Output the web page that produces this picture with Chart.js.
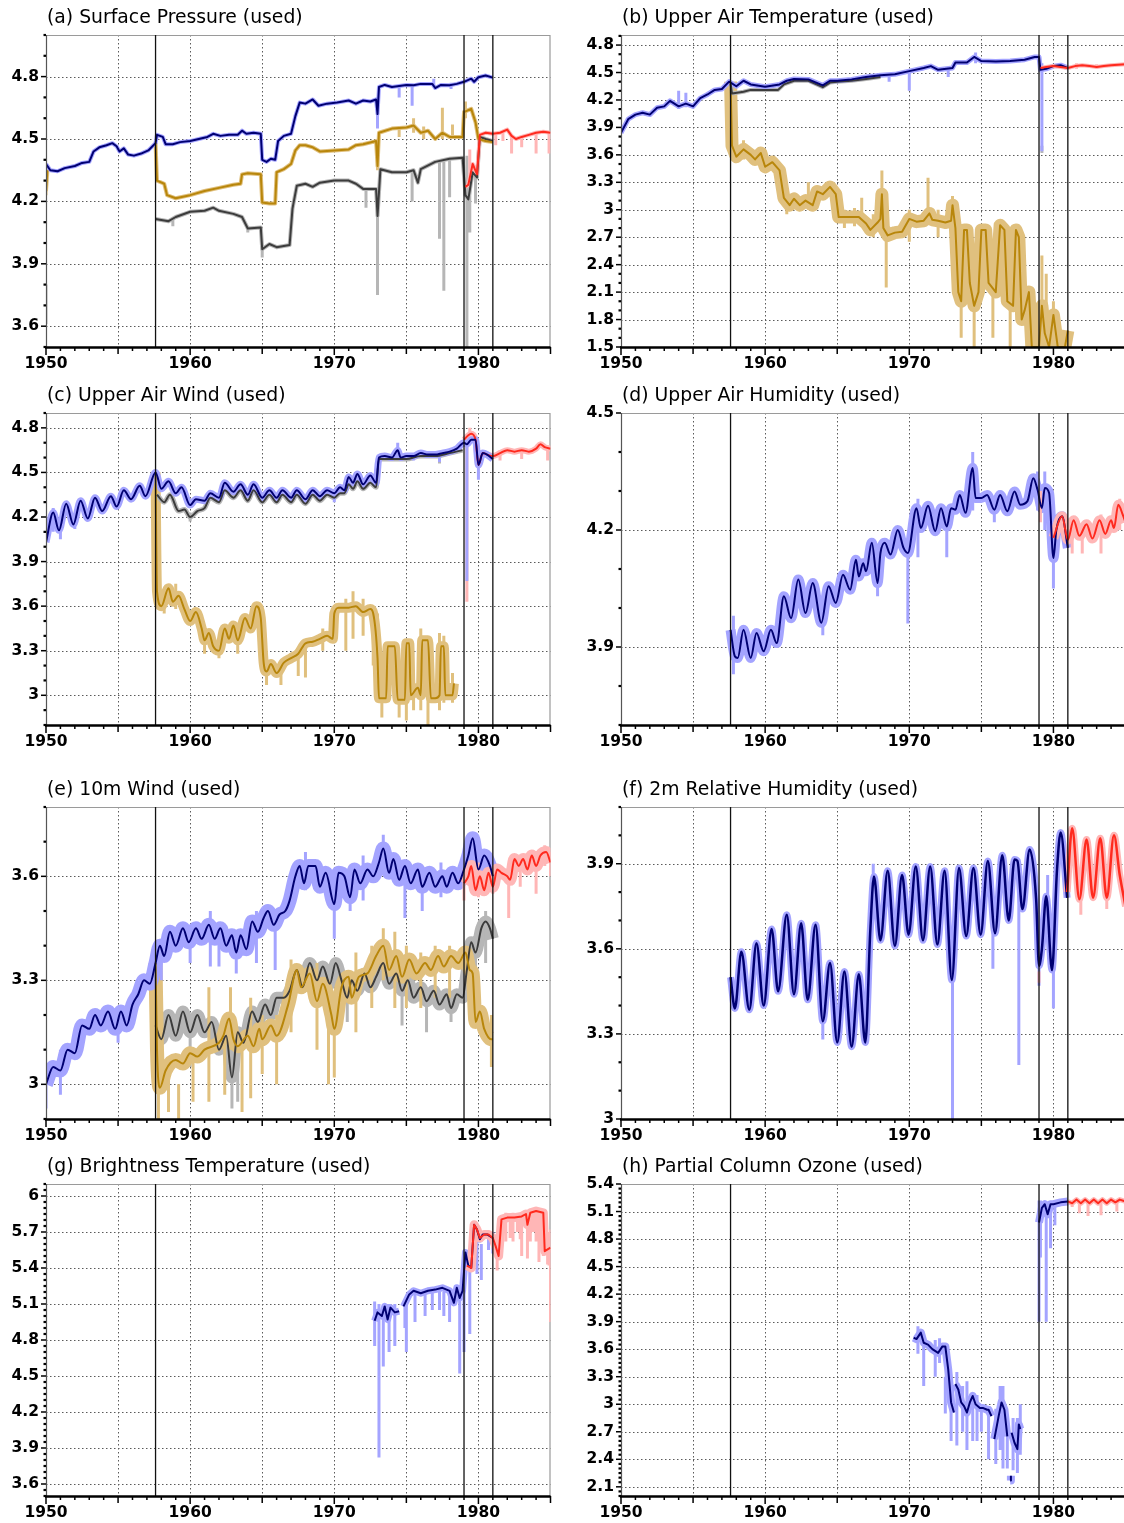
<!DOCTYPE html>
<html><head><meta charset="utf-8">
<script src="https://cdn.jsdelivr.net/npm/chart.js@4.4.0/dist/chart.umd.min.js"></script>
<style>
html,body{margin:0;padding:0;width:1124px;height:1523px;overflow:hidden;background:#fff}
body{position:relative}
canvas{position:absolute}
</style></head><body>
<canvas id="pa" width="560" height="377" style="left:0px;top:0px"></canvas>
<canvas id="pb" width="560" height="377" style="left:575px;top:0px"></canvas>
<canvas id="pc" width="560" height="377" style="left:0px;top:378px"></canvas>
<canvas id="pd" width="560" height="377" style="left:575px;top:378px"></canvas>
<canvas id="pe" width="560" height="377" style="left:0px;top:772px"></canvas>
<canvas id="pf" width="560" height="377" style="left:575px;top:772px"></canvas>
<canvas id="pg" width="560" height="377" style="left:0px;top:1149px"></canvas>
<canvas id="ph" width="560" height="377" style="left:575px;top:1149px"></canvas>
<script>
// ---------------- DATA ----------------
const xTickLabels = [1950, 1960, 1970, 1980];
const eventYears = [1957.6, 1979.0, 1981.0];
const gridYears = [1955, 1960, 1965, 1970, 1975, 1980];

const titles = ["(a) Surface Pressure (used)", "(b) Upper Air Temperature (used)",
  "(c) Upper Air Wind (used)", "(d) Upper Air Humidity (used)",
  "(e) 10m Wind (used)", "(f) 2m Relative Humidity (used)",
  "(g) Brightness Temperature (used)", "(h) Partial Column Ozone (used)"];

const aYTicks = [3.6, 3.9, 4.2, 4.5, 4.8];
const bYTicks = [1.5, 1.8, 2.1, 2.4, 2.7, 3.0, 3.3, 3.6, 3.9, 4.2, 4.5, 4.8];
const cYTicks = [3.0, 3.3, 3.6, 3.9, 4.2, 4.5, 4.8];
const dYTicks = [3.9, 4.2, 4.5];
const eYTicks = [3.0, 3.3, 3.6];
const fYTicks = [3.0, 3.3, 3.6, 3.9];
const gYTicks = [3.6, 3.9, 4.2, 4.5, 4.8, 5.1, 5.4, 5.7, 6.0];
const hYTicks = [2.1, 2.4, 2.7, 3.0, 3.3, 3.6, 3.9, 4.2, 4.5, 4.8, 5.1, 5.4];

// (a) Surface Pressure
const aBlue = [[1950.0,4.38],[1950.3,4.35],[1950.8,4.345],[1951.3,4.36],[1952.0,4.37],[1952.5,4.385],[1953.0,4.39],[1953.3,4.44],[1953.7,4.46],[1954.2,4.47],[1954.6,4.48],[1954.9,4.465],[1955.1,4.44],[1955.4,4.455],[1955.7,4.425],[1956.1,4.42],[1956.6,4.43],[1957.1,4.445],[1957.6,4.48],[1957.7,4.52],[1958.1,4.51],[1958.3,4.475],[1958.8,4.475],[1959.3,4.485],[1960.0,4.49],[1960.6,4.5],[1961.2,4.51],[1961.6,4.525],[1962.1,4.515],[1962.7,4.52],[1963.3,4.52],[1963.6,4.54],[1963.9,4.525],[1964.4,4.53],[1964.9,4.525],[1965.0,4.40],[1965.3,4.39],[1965.6,4.405],[1965.9,4.40],[1966.1,4.49],[1966.5,4.515],[1967.0,4.525],[1967.3,4.61],[1967.6,4.675],[1968.0,4.67],[1968.5,4.69],[1968.9,4.66],[1969.5,4.67],[1970.2,4.675],[1971.0,4.685],[1971.5,4.67],[1972.0,4.685],[1972.5,4.68],[1972.9,4.69],[1973.0,4.62],[1973.1,4.75],[1973.5,4.76],[1974.0,4.75],[1974.5,4.755],[1975.0,4.76],[1975.5,4.758],[1976.0,4.765],[1976.8,4.765],[1977.0,4.745],[1977.4,4.76],[1978.0,4.758],[1978.5,4.765],[1979.0,4.775],[1979.5,4.79],[1979.7,4.775],[1980.0,4.797],[1980.5,4.805],[1981.0,4.795]];
const aBlueSpikes = [[1973.0,4.55,4.7],[1974.5,4.70,4.76],[1975.4,4.66,4.76],[1976.9,4.76,4.79],[1978.1,4.74,4.77]];
const aGold = [[1950.0,4.25],[1950.1,4.35],[1950.15,null],[1957.6,4.48],[1957.7,4.30],[1958.2,4.285],[1958.4,4.23],[1959.0,4.215],[1960.0,4.23],[1961.0,4.25],[1962.0,4.265],[1963.0,4.28],[1963.5,4.285],[1963.6,4.33],[1964.0,4.335],[1964.9,4.33],[1965.0,4.195],[1965.5,4.19],[1965.9,4.19],[1966.0,4.34],[1966.5,4.355],[1967.0,4.38],[1967.3,4.445],[1967.6,4.47],[1968.0,4.47],[1968.5,4.46],[1969.0,4.44],[1970.0,4.445],[1971.0,4.45],[1971.5,4.47],[1972.0,4.475],[1972.9,4.49],[1973.0,4.37],[1973.1,4.53],[1974.0,4.55],[1975.0,4.555],[1975.5,4.565],[1976.0,4.53],[1976.5,4.54],[1977.0,4.50],[1977.5,4.53],[1978.0,4.51],[1978.9,4.51],[1979.0,4.63],[1979.5,4.645],[1979.8,4.58],[1980.0,4.50],[1980.5,4.49],[1981.0,4.485]];
const aGoldSpikes = [[1950.0,4.23,4.37],[1973.0,4.35,4.49],[1975.5,4.53,4.60],[1977.5,4.50,4.65],[1978.2,4.50,4.57],[1979.1,4.6,4.68],[1976.2,4.50,4.56],[1974.5,4.51,4.56]];
const aGrey = [[1957.6,4.115],[1958.5,4.105],[1959.0,4.125],[1960.0,4.15],[1961.0,4.155],[1961.6,4.17],[1962.0,4.155],[1963.0,4.14],[1963.6,4.125],[1964.0,4.07],[1964.9,4.075],[1965.0,3.97],[1965.5,3.995],[1966.0,3.98],[1966.9,3.99],[1967.1,4.165],[1967.4,4.275],[1968.0,4.285],[1968.5,4.27],[1969.0,4.29],[1970.0,4.30],[1971.0,4.30],[1971.5,4.285],[1972.0,4.26],[1972.9,4.26],[1973.0,4.13],[1973.2,4.355],[1974.0,4.34],[1975.0,4.34],[1975.5,4.35],[1975.8,4.29],[1976.0,4.355],[1977.0,4.39],[1978.0,4.405],[1978.9,4.41],[1979.1,4.23],[1979.3,4.21],[1979.6,4.34],[1979.9,4.315],[1980.1,4.51],[1980.5,4.50],[1981.0,4.49]];
const aGreySpikes = [[1950.0,3.61,3.80],[1973.0,3.75,4.2],[1972.2,4.17,4.26],[1975.4,4.2,4.34],[1977.3,4.02,4.39],[1977.6,3.77,4.39],[1978.0,4.22,4.4],[1979.2,3.5,4.42],[1979.4,4.05,4.3],[1979.8,4.19,4.32],[1958.8,4.08,4.12],[1965.0,3.93,3.99],[1964.0,4.05,4.08]];
const aRed = [[1979.1,4.27],[1979.3,4.28],[1979.6,4.38],[1979.9,4.33],[1980.1,4.52],[1980.5,4.53],[1981.0,4.525],[1981.5,4.53],[1982.0,4.545],[1982.3,4.515],[1982.6,4.50],[1983.0,4.51],[1983.5,4.52],[1984.0,4.53],[1984.5,4.535],[1985.0,4.53]];
const aRedSpikes = [[1979.4,4.33,4.45],[1981.2,4.47,4.53],[1982.3,4.43,4.52],[1983.0,4.46,4.51],[1984.0,4.43,4.53],[1984.9,4.43,4.53],[1981.7,4.49,4.53]];

// (b) Upper Air Temperature
const bBlue = [[1950.0,3.84],[1950.5,3.99],[1951.0,4.04],[1951.5,4.06],[1952.0,4.04],[1952.5,4.115],[1953.0,4.13],[1953.4,4.19],[1954.0,4.13],[1954.5,4.16],[1955.0,4.13],[1955.5,4.22],[1956.0,4.26],[1956.5,4.31],[1957.0,4.32],[1957.5,4.40],[1958.0,4.35],[1958.5,4.41],[1959.0,4.37],[1960.0,4.345],[1961.0,4.37],[1961.5,4.41],[1962.0,4.43],[1963.0,4.425],[1964.0,4.36],[1964.5,4.41],[1965.0,4.41],[1966.0,4.425],[1967.0,4.45],[1968.0,4.47],[1969.0,4.48],[1970.0,4.515],[1971.0,4.55],[1971.5,4.57],[1972.0,4.53],[1973.0,4.55],[1973.2,4.61],[1974.0,4.61],[1974.5,4.67],[1975.0,4.625],[1976.0,4.62],[1977.0,4.625],[1978.0,4.64],[1978.7,4.67],[1979.0,4.67],[1979.1,4.53],[1979.5,4.54],[1980.0,4.57],[1980.5,4.58],[1981.0,4.55]];
const bBlueSpikes = [[1954.0,4.1,4.3],[1954.5,4.12,4.28],[1970.0,4.3,4.5],[1972.7,4.45,4.55],[1979.2,3.64,4.6],[1974.6,4.6,4.72],[1968.6,4.4,4.48]];
const bGrey = [[1957.6,4.38],[1957.7,4.27],[1958.5,4.29],[1959.0,4.31],[1960.0,4.31],[1960.9,4.31],[1961.3,4.37],[1962.0,4.41],[1963.0,4.41],[1964.0,4.34],[1964.5,4.39],[1965.0,4.40],[1966.0,4.41],[1967.0,4.43],[1968.0,4.45]];
const bGreySpikes = [[1979.2,3.62,3.7]];
const bGold = [[1957.6,4.40],[1957.7,3.70],[1958.0,3.58],[1958.5,3.66],[1959.0,3.60],[1959.3,3.55],[1959.7,3.62],[1960.0,3.47],[1960.5,3.52],[1961.0,3.43],[1961.3,3.13],[1961.7,3.05],[1962.0,3.12],[1962.4,3.05],[1962.8,3.10],[1963.3,3.05],[1963.6,3.20],[1964.0,3.17],[1964.5,3.25],[1964.9,3.17],[1965.1,2.92],[1966.0,2.92],[1966.5,2.92],[1967.0,2.85],[1967.3,2.78],[1967.8,2.86],[1968.0,2.90],[1968.1,3.17],[1968.2,2.80],[1968.5,2.72],[1969.0,2.75],[1969.5,2.76],[1970.0,2.90],[1970.5,2.87],[1971.0,2.88],[1971.4,2.96],[1971.6,2.89],[1972.0,2.88],[1972.5,2.86],[1972.9,2.88],[1973.0,3.05],[1973.2,2.80],[1973.4,2.10],[1973.6,2.00],[1973.8,2.78],[1974.0,2.78],[1974.2,2.20],[1974.5,1.95],[1974.8,2.10],[1975.0,2.78],[1975.3,2.78],[1975.5,2.20],[1976.0,2.10],[1976.3,2.83],[1976.6,2.78],[1976.8,2.00],[1977.2,1.95],[1977.4,2.78],[1977.6,2.70],[1977.8,1.80],[1978.0,1.90],[1978.3,2.10],[1978.5,1.50],[1979.0,1.50],[1979.2,1.95],[1979.4,1.65],[1979.7,1.50],[1980.0,1.85],[1980.3,1.50],[1980.8,1.50],[1981.0,1.68]];
const bGoldSpikes = [[1966.7,2.9,3.13],[1968.1,2.9,3.43],[1968.4,2.15,2.8],[1971.3,2.9,3.35],[1973.0,2.8,3.15],[1973.6,1.6,2.1],[1974.5,1.5,2.0],[1975.8,1.6,2.1],[1977.0,1.5,2.0],[1978.5,1.5,2.0],[1979.2,1.5,2.5],[1979.5,1.5,2.3],[1980.0,1.5,2.0],[1960.0,3.4,3.65],[1961.5,2.95,3.2],[1963.0,3.0,3.3],[1965.5,2.8,3.0],[1967.5,2.7,2.95],[1970.0,2.65,3.0],[1972.0,2.7,3.0],[1958.5,3.55,3.76],[1966.2,2.82,3.02]];
const bRed = [[1979.1,4.55],[1979.5,4.56],[1980.0,4.57],[1981.0,4.55],[1981.5,4.57],[1982.0,4.58],[1982.5,4.57],[1983.0,4.56],[1983.5,4.57],[1984.0,4.58],[1984.5,4.585],[1985.0,4.59]];
const bRedSpikes = [[1981.6,4.54,4.6],[1983.0,4.54,4.59]];

// (c) Upper Air Wind
const cBlue = [[1950.0,4.03],[1950.5,4.23],[1950.9,4.11],[1951.4,4.29],[1951.9,4.15],[1952.4,4.31],[1952.9,4.19],[1953.4,4.33],[1953.9,4.24],[1954.5,4.34],[1954.9,4.27],[1955.4,4.38],[1955.9,4.32],[1956.5,4.41],[1956.9,4.34],[1957.6,4.50],[1958.0,4.39],[1958.5,4.44],[1959.0,4.36],[1959.4,4.40],[1960.0,4.28],[1960.4,4.32],[1961.0,4.31],[1961.4,4.36],[1962.0,4.33],[1962.4,4.43],[1963.0,4.37],[1963.5,4.42],[1964.0,4.35],[1964.4,4.42],[1965.0,4.33],[1965.5,4.38],[1966.0,4.33],[1966.4,4.38],[1967.0,4.33],[1967.4,4.38],[1968.0,4.32],[1968.5,4.38],[1969.0,4.34],[1969.5,4.38],[1970.0,4.36],[1970.4,4.40],[1970.7,4.38],[1971.0,4.47],[1971.3,4.43],[1971.6,4.49],[1972.0,4.42],[1972.5,4.48],[1972.9,4.43],[1973.1,4.60],[1973.5,4.61],[1974.0,4.60],[1974.4,4.65],[1974.6,4.60],[1975.0,4.61],[1975.5,4.61],[1976.0,4.63],[1976.5,4.62],[1977.0,4.62],[1977.5,4.63],[1978.0,4.64],[1978.5,4.66],[1979.0,4.70],[1979.2,4.69],[1979.5,4.72],[1979.8,4.72],[1980.0,4.55],[1980.3,4.63],[1980.6,4.62],[1981.0,4.59]];
const cBlueSpikes = [[1979.2,3.77,4.7],[1980.0,4.45,4.6],[1950.5,4.1,4.26],[1951.0,4.05,4.15],[1952.0,4.12,4.2],[1974.4,4.6,4.7],[1970.0,4.3,4.36],[1975.5,4.58,4.63],[1977.3,4.57,4.62]];
const cGrey = [[1957.7,4.35],[1958.2,4.30],[1958.6,4.35],[1959.2,4.24],[1959.6,4.25],[1960.0,4.20],[1960.5,4.24],[1961.0,4.26],[1961.4,4.33],[1962.0,4.30],[1962.4,4.38],[1963.0,4.33],[1963.5,4.38],[1964.0,4.31],[1964.4,4.38],[1965.0,4.30],[1965.5,4.35],[1966.0,4.30],[1966.4,4.35],[1967.0,4.30],[1967.4,4.35],[1968.0,4.29],[1968.5,4.35],[1969.0,4.31],[1969.5,4.35],[1970.0,4.33],[1970.4,4.36],[1970.7,4.36],[1971.0,4.42],[1971.3,4.39],[1971.6,4.44],[1972.0,4.39],[1972.5,4.43],[1972.9,4.40],[1973.1,4.59],[1974.0,4.59],[1975.0,4.59],[1976.0,4.61],[1977.0,4.61],[1978.0,4.63],[1978.9,4.65]];
const cGreySpikes = [[1960.0,4.17,4.23],[1977.3,4.56,4.62]];
const cGold = [[1957.6,4.50],[1957.7,3.70],[1958.0,3.60],[1958.5,3.72],[1958.8,3.63],[1959.2,3.67],[1959.6,3.58],[1960.0,3.50],[1960.4,3.56],[1960.8,3.45],[1961.0,3.37],[1961.3,3.42],[1961.6,3.33],[1962.0,3.30],[1962.4,3.45],[1962.7,3.38],[1963.0,3.47],[1963.3,3.37],[1963.8,3.52],[1964.2,3.45],[1964.6,3.60],[1964.9,3.52],[1965.1,3.22],[1965.3,3.16],[1965.6,3.21],[1966.0,3.15],[1966.5,3.22],[1967.0,3.25],[1967.5,3.28],[1968.0,3.35],[1968.5,3.36],[1969.0,3.38],[1969.5,3.40],[1969.9,3.38],[1970.0,3.55],[1970.3,3.59],[1971.0,3.59],[1971.5,3.60],[1972.0,3.56],[1972.5,3.58],[1972.7,3.55],[1973.0,3.25],[1973.1,2.98],[1973.6,2.98],[1973.7,3.33],[1974.2,3.33],[1974.4,2.97],[1974.9,2.97],[1975.0,3.35],[1975.2,3.35],[1975.3,3.00],[1975.8,3.05],[1976.0,3.00],[1976.1,3.37],[1976.5,3.37],[1976.7,2.98],[1977.0,2.98],[1977.3,3.00],[1977.4,3.33],[1977.6,3.33],[1977.7,3.00],[1978.2,3.00],[1978.3,3.08]];
const cGoldSpikes = [[1961.0,3.28,3.45],[1962.0,3.25,3.38],[1963.3,3.28,3.4],[1965.3,3.07,3.2],[1966.3,3.07,3.2],[1967.5,3.13,3.3],[1968.0,3.12,3.35],[1969.2,3.3,3.45],[1970.8,3.3,3.65],[1971.3,3.38,3.7],[1972.0,3.4,3.65],[1972.7,3.2,3.6],[1973.0,3.15,3.55],[1973.3,2.85,3.05],[1974.5,2.85,3.0],[1975.0,2.83,3.33],[1975.5,2.9,3.1],[1976.0,2.9,3.45],[1976.5,2.8,3.0],[1977.3,2.9,3.42],[1977.6,2.95,3.4],[1978.2,2.95,3.15],[1958.2,3.55,3.7],[1959.0,3.58,3.75]];
const cRed = [[1979.0,4.72],[1979.3,4.75],[1979.5,4.76],[1979.8,4.72],[1980.0,4.55],[1980.3,4.63],[1980.6,4.62],[1981.0,4.61],[1981.5,4.63],[1982.0,4.65],[1982.5,4.64],[1983.0,4.65],[1983.5,4.64],[1984.0,4.66],[1984.3,4.69],[1984.6,4.67],[1985.0,4.66]];
const cRedSpikes = [[1979.2,3.63,4.7],[1979.4,4.72,4.8],[1981.5,4.58,4.65],[1983.0,4.59,4.66],[1984.8,4.58,4.66]];

// (d) Upper Air Humidity
const dBlue = [[1957.6,3.944],[1957.9,3.876],[1958.1,3.872],[1958.5,3.944],[1959.0,3.872],[1959.4,3.936],[1959.9,3.889],[1960.4,3.944],[1960.8,3.91],[1961.3,4.03],[1961.8,3.974],[1962.3,4.073],[1962.8,3.987],[1963.3,4.064],[1963.9,3.962],[1964.4,4.056],[1964.9,4.013],[1965.4,4.085],[1965.9,4.047],[1966.3,4.124],[1966.5,4.081],[1966.8,4.115],[1967.0,4.094],[1967.4,4.167],[1967.8,4.064],[1968.0,4.141],[1968.3,4.167],[1968.7,4.137],[1969.2,4.20],[1969.6,4.154],[1969.9,4.141],[1970.5,4.256],[1970.8,4.205],[1971.3,4.262],[1971.8,4.197],[1972.2,4.256],[1972.6,4.209],[1972.9,4.256],[1973.2,4.252],[1973.5,4.29],[1973.9,4.244],[1974.4,4.359],[1974.6,4.282],[1975.0,4.282],[1975.4,4.29],[1975.9,4.252],[1976.3,4.29],[1976.8,4.248],[1977.3,4.299],[1977.7,4.265],[1978.2,4.274],[1978.6,4.333],[1978.9,4.303],[1979.2,4.256],[1979.4,4.308],[1979.7,4.295],[1980.0,4.128],[1980.2,4.20],[1980.6,4.235],[1981.0,4.154]];
const dBlueSpikes = [[1969.9,3.96,4.15],[1967.8,4.03,4.1],[1980.0,4.05,4.15],[1974.4,4.25,4.4],[1978.9,4.25,4.35],[1979.4,4.2,4.35],[1957.8,3.83,3.98],[1964.0,3.93,4.0],[1970.6,4.13,4.28],[1972.6,4.13,4.2],[1975.9,4.22,4.28]];
const dRed = [[1980.0,4.18],[1980.6,4.235],[1981.0,4.175],[1981.4,4.225],[1981.8,4.185],[1982.3,4.215],[1982.7,4.178],[1983.2,4.225],[1983.6,4.19],[1984.0,4.225],[1984.2,4.205],[1984.5,4.265],[1984.8,4.24],[1985.0,4.22]];
const dRedSpikes = [[1981.3,4.14,4.22],[1982.0,4.14,4.2],[1983.3,4.14,4.24],[1984.6,4.2,4.28],[1979.1,4.22,4.3]];

// (e) 10m Wind
const eBlue = [[1950.0,3.00],[1950.5,3.05],[1951.0,3.04],[1951.5,3.10],[1952.0,3.09],[1952.5,3.17],[1953.0,3.16],[1953.4,3.20],[1953.8,3.17],[1954.3,3.21],[1954.8,3.16],[1955.2,3.21],[1955.6,3.17],[1956.0,3.23],[1956.4,3.26],[1956.8,3.30],[1957.2,3.29],[1957.6,3.35],[1957.9,3.40],[1958.2,3.37],[1958.6,3.44],[1959.0,3.40],[1959.5,3.45],[1959.9,3.41],[1960.4,3.45],[1960.8,3.42],[1961.3,3.46],[1961.7,3.42],[1962.1,3.45],[1962.5,3.40],[1962.9,3.43],[1963.2,3.38],[1963.5,3.43],[1963.9,3.39],[1964.3,3.47],[1964.7,3.44],[1965.1,3.48],[1965.4,3.50],[1965.8,3.46],[1966.2,3.49],[1966.6,3.50],[1966.9,3.53],[1967.3,3.60],[1967.6,3.63],[1967.9,3.58],[1968.2,3.63],[1968.7,3.63],[1969.0,3.57],[1969.4,3.61],[1970.0,3.52],[1970.3,3.61],[1970.7,3.60],[1971.1,3.54],[1971.4,3.62],[1971.8,3.58],[1972.3,3.62],[1972.7,3.60],[1973.1,3.64],[1973.4,3.68],[1973.8,3.61],[1974.1,3.65],[1974.5,3.59],[1974.9,3.63],[1975.3,3.58],[1975.8,3.62],[1976.1,3.57],[1976.6,3.61],[1977.0,3.57],[1977.5,3.60],[1977.8,3.57],[1978.2,3.61],[1978.6,3.58],[1979.0,3.62],[1979.3,3.66],[1979.6,3.71],[1980.0,3.62],[1980.4,3.66],[1980.8,3.63],[1981.0,3.60]];
const eBlueSpikes = [[1970.0,3.42,3.6],[1971.1,3.5,3.6],[1965.9,3.33,3.45],[1963.2,3.32,3.4],[1962.0,3.34,3.45],[1960.0,3.35,3.45],[1974.9,3.48,3.6],[1976.1,3.5,3.6],[1973.4,3.66,3.72],[1958.0,3.3,3.42],[1950.0,2.93,3.02],[1951.0,2.97,3.1],[1955.0,3.12,3.2],[1979.6,3.66,3.72],[1961.4,3.34,3.5],[1964.6,3.35,3.5],[1968.0,3.56,3.67],[1972.0,3.53,3.66],[1977.4,3.54,3.64]];
const eGrey = [[1957.6,3.17],[1958.0,3.13],[1958.5,3.20],[1959.0,3.14],[1959.5,3.21],[1960.0,3.15],[1960.5,3.20],[1961.0,3.15],[1961.5,3.18],[1962.0,3.10],[1962.5,3.14],[1962.9,3.02],[1963.3,3.15],[1963.7,3.12],[1964.3,3.21],[1964.7,3.18],[1965.2,3.23],[1965.6,3.20],[1966.0,3.25],[1966.5,3.25],[1966.9,3.27],[1967.4,3.33],[1967.8,3.28],[1968.3,3.35],[1968.8,3.30],[1969.2,3.34],[1969.7,3.29],[1970.1,3.35],[1970.5,3.30],[1970.9,3.25],[1971.2,3.30],[1971.6,3.27],[1972.1,3.32],[1972.5,3.28],[1972.9,3.31],[1973.4,3.35],[1973.8,3.29],[1974.3,3.32],[1974.7,3.27],[1975.1,3.30],[1975.5,3.25],[1976.0,3.28],[1976.4,3.24],[1976.9,3.27],[1977.3,3.23],[1977.8,3.26],[1978.1,3.22],[1978.5,3.26],[1978.9,3.25],[1979.2,3.33],[1979.5,3.41],[1979.8,3.38],[1980.2,3.45],[1980.5,3.47],[1980.8,3.45],[1981.0,3.42]];
const eGreySpikes = [[1962.9,2.93,3.05],[1963.3,2.95,3.12],[1970.9,3.18,3.27],[1974.7,3.17,3.27],[1976.4,3.15,3.24],[1978.1,3.18,3.23],[1979.8,3.2,3.4],[1980.5,3.35,3.5],[1960.0,3.05,3.15]];
const eGold = [[1957.6,3.35],[1957.7,3.10],[1957.9,2.99],[1958.3,3.04],[1959.0,3.07],[1959.5,3.06],[1960.0,3.09],[1960.5,3.08],[1961.0,3.10],[1962.0,3.12],[1962.3,3.14],[1962.7,3.19],[1963.0,3.13],[1963.3,3.11],[1964.0,3.14],[1964.4,3.11],[1964.8,3.16],[1965.0,3.13],[1965.6,3.17],[1966.0,3.14],[1966.8,3.23],[1967.4,3.33],[1967.7,3.28],[1968.3,3.32],[1968.8,3.24],[1969.2,3.29],[1969.8,3.20],[1970.0,3.16],[1970.5,3.28],[1971.0,3.31],[1971.2,3.25],[1971.7,3.31],[1972.3,3.32],[1972.9,3.37],[1973.4,3.40],[1973.8,3.33],[1974.3,3.37],[1974.7,3.31],[1975.2,3.36],[1975.7,3.32],[1976.3,3.35],[1976.7,3.33],[1977.2,3.37],[1977.6,3.34],[1978.1,3.37],[1978.6,3.35],[1979.1,3.38],[1979.4,3.33],[1979.6,3.32],[1979.8,3.18],[1980.1,3.21],[1980.4,3.16],[1980.9,3.13],[1981.0,3.13]];
const eGoldSpikes = [[1957.8,2.9,3.1],[1958.5,2.92,3.05],[1959.2,2.9,3.0],[1960.2,2.95,3.1],[1961.3,2.95,3.28],[1962.4,2.97,3.2],[1962.8,3.1,3.28],[1963.6,2.92,3.1],[1964.2,2.96,3.25],[1965.0,3.03,3.2],[1966.0,3.0,3.2],[1967.0,3.15,3.36],[1968.8,3.1,3.35],[1969.6,3.0,3.3],[1970.0,3.02,3.2],[1971.5,3.15,3.38],[1972.6,3.22,3.4],[1973.4,3.3,3.45],[1974.2,3.22,3.44],[1975.0,3.22,3.4],[1976.0,3.22,3.38],[1977.0,3.25,3.4],[1978.0,3.25,3.4],[1980.9,3.05,3.2]];
const eRed = [[1979.0,3.58],[1979.3,3.60],[1979.5,3.63],[1979.8,3.56],[1980.1,3.60],[1980.4,3.56],[1980.7,3.61],[1981.0,3.57],[1981.3,3.62],[1981.6,3.61],[1982.0,3.60],[1982.2,3.59],[1982.5,3.65],[1982.8,3.63],[1983.1,3.65],[1983.4,3.62],[1983.7,3.66],[1984.0,3.63],[1984.3,3.66],[1984.7,3.67],[1985.0,3.64]];
const eRedSpikes = [[1979.0,3.53,3.62],[1980.0,3.54,3.64],[1981.0,3.55,3.62],[1982.1,3.48,3.62],[1982.9,3.57,3.66],[1984.0,3.55,3.66],[1985.0,3.6,3.67],[1984.6,3.63,3.69]];

// (f) 2m Relative Humidity
const fBlue = [[1957.6,3.50],[1957.9,3.39],[1958.35,3.59],[1958.9,3.385],[1959.4,3.62],[1959.9,3.40],[1960.45,3.67],[1960.9,3.45],[1961.5,3.72],[1962.0,3.44],[1962.5,3.69],[1962.95,3.42],[1963.5,3.685],[1964.0,3.345],[1964.5,3.55],[1965.0,3.27],[1965.5,3.52],[1966.0,3.255],[1966.5,3.51],[1966.95,3.27],[1967.3,3.67],[1967.55,3.855],[1968.0,3.63],[1968.5,3.875],[1969.0,3.61],[1969.5,3.86],[1969.95,3.65],[1970.45,3.89],[1970.95,3.63],[1971.45,3.89],[1971.95,3.615],[1972.45,3.875],[1972.95,3.49],[1973.45,3.885],[1973.95,3.645],[1974.45,3.885],[1974.95,3.65],[1975.45,3.91],[1975.95,3.655],[1976.45,3.93],[1976.9,3.70],[1977.3,3.915],[1977.5,3.91],[1977.85,3.74],[1978.35,3.95],[1978.8,3.775],[1979.0,3.54],[1979.2,3.60],[1979.5,3.785],[1979.9,3.525],[1980.25,3.88],[1980.5,4.01],[1980.95,3.78]];
const fBlueSpikes = [[1973.0,3.0,3.5],[1977.6,3.19,3.9],[1975.8,3.53,3.66],[1979.0,3.47,3.6],[1980.0,3.39,3.55],[1964.0,3.28,3.36],[1979.6,3.7,3.86],[1967.5,3.8,3.9]];
const fRed = [[1980.95,3.80],[1981.3,4.025],[1981.8,3.775],[1982.3,3.985],[1982.75,3.78],[1983.25,3.99],[1983.7,3.78],[1984.2,4.0],[1984.6,3.86],[1985.0,3.75]];
const fRedSpikes = [[1979.0,3.48,3.52],[1981.9,3.72,3.8],[1983.7,3.74,3.8],[1985.0,3.7,3.78]];

// (g) Brightness Temperature
const gBlue = [[1972.8,4.96],[1973.0,5.03],[1973.3,5.0],[1973.5,5.08],[1973.7,4.97],[1973.9,5.07],[1974.2,5.03],[1974.5,5.04],[1974.55,null],[1974.6,4.96],[1974.65,null],[1974.8,5.08],[1975.2,5.18],[1975.5,5.21],[1976.0,5.19],[1976.5,5.21],[1977.0,5.22],[1977.5,5.235],[1978.0,5.21],[1978.3,5.11],[1978.5,5.235],[1978.7,5.15],[1978.9,5.21],[1979.1,5.53],[1979.3,5.42],[1979.5,5.40],[1979.7,5.76],[1979.9,5.72],[1980.1,5.64],[1980.3,5.68],[1980.6,5.68],[1981.0,5.65]];
const gBlueSpikes = [[1972.8,4.75,5.12],[1973.1,3.82,5.1],[1973.4,4.58,5.1],[1973.8,4.7,5.1],[1974.2,4.75,5.1],[1974.9,4.9,5.1],[1975.0,4.7,5.1],[1975.6,4.95,5.2],[1976.3,5.0,5.2],[1976.8,5.05,5.2],[1977.3,5.05,5.2],[1977.6,5.0,5.2],[1978.0,4.95,5.2],[1978.7,4.52,5.2],[1979.0,4.7,5.3],[1979.4,4.85,5.4],[1979.9,5.35,5.75],[1980.2,5.3,5.6],[1980.7,5.55,5.7],[1981.0,5.52,5.7]];
const gRed = [[1979.2,5.42],[1979.5,5.40],[1979.7,5.76],[1979.9,5.72],[1980.1,5.65],[1980.4,5.68],[1980.7,5.68],[1981.0,5.65],[1981.2,5.58],[1981.4,5.50],[1981.6,5.805],[1982.0,5.82],[1982.5,5.82],[1983.0,5.83],[1983.3,5.85],[1983.4,5.76],[1983.6,5.86],[1984.0,5.875],[1984.5,5.86],[1984.6,5.54],[1985.0,5.57]];
const gRedSpikes = [[1981.3,5.38,5.6],[1981.8,5.7,5.85],[1982.2,5.65,5.85],[1982.7,5.7,5.85],[1983.0,5.5,5.86],[1983.4,5.48,5.8],[1983.8,5.7,5.88],[1984.2,5.45,5.88],[1984.5,5.5,5.88],[1984.8,5.43,5.6],[1985.0,4.95,5.72],[1984.9,5.42,5.7],[1981.9,5.62,5.86],[1982.4,5.62,5.86],[1982.9,5.64,5.86],[1983.6,5.62,5.88],[1984.0,5.62,5.9]];

// (h) Partial Column Ozone
const hBlue = [[1970.3,3.725],[1970.5,3.71],[1970.8,3.78],[1971.0,3.67],[1971.3,3.65],[1971.6,3.60],[1972.0,3.56],[1972.3,3.63],[1972.5,3.63],[1972.7,3.38],[1972.9,3.02],[1973.1,2.91],[1973.15,null],[1973.2,3.22],[1973.4,3.16],[1973.6,3.02],[1973.8,2.98],[1974.0,2.91],[1974.2,3.02],[1974.4,3.09],[1974.6,3.0],[1974.9,2.96],[1975.1,2.96],[1975.4,2.94],[1975.5,2.94],[1975.7,2.87],[1975.8,null],[1975.9,2.62],[1976.2,2.87],[1976.4,3.02],[1976.6,2.94],[1976.8,2.65],[1976.9,null],[1977.0,2.17],[1977.05,2.22],[1977.07,null],[1977.1,2.69],[1977.3,2.58],[1977.5,2.51],[1977.6,2.78],[1977.7,2.73],[1977.8,null],[1979.0,4.98],[1979.2,5.14],[1979.4,5.18],[1979.6,5.07],[1979.8,5.18],[1980.0,5.18],[1980.5,5.20],[1981.0,5.21]];
const hBlueSpikes = [[1979.0,3.9,5.22],[1979.1,4.6,5.22],[1979.5,3.9,5.2],[1979.8,4.7,5.2],[1980.1,4.95,5.2],[1970.6,3.55,3.85],[1971.0,3.2,3.75],[1971.8,3.3,3.7],[1972.1,3.45,3.72],[1972.5,2.9,3.3],[1972.9,2.6,3.05],[1973.3,2.55,3.35],[1973.7,2.7,3.2],[1974.0,2.5,3.25],[1974.4,2.6,3.1],[1974.7,2.6,3.1],[1975.0,2.7,3.0],[1975.5,2.4,2.95],[1976.0,2.35,2.95],[1976.3,2.5,3.2],[1976.5,2.3,3.2],[1976.8,2.3,2.7],[1977.2,2.28,2.85],[1977.5,2.25,2.85],[1977.7,2.45,3.0]];
const hRed = [[1981.0,5.21],[1981.3,5.19],[1981.6,5.23],[1981.9,5.19],[1982.2,5.23],[1982.5,5.19],[1982.8,5.23],[1983.1,5.19],[1983.4,5.23],[1983.7,5.19],[1984.0,5.23],[1984.3,5.20],[1984.6,5.23],[1985.0,5.21]];
const hRedSpikes = [[1981.8,5.08,5.2],[1982.4,5.05,5.2],[1983.3,5.06,5.2],[1984.4,5.1,5.2],[1981.3,5.15,5.2]];

// ---------------- STYLE ----------------
const NAVY = '#000072', LBLUE = '#a4a4ff';
const GOLD = '#b8860b', LGOLD = '#e0c07e';
const GREY = '#3c3c3c', LGREY = '#b6b6b6';
const RED = '#ff2a1e', LRED = '#ffb6b6';
const TFONT = '"DejaVu Sans", Verdana, sans-serif';

function pts(arr) { return arr.map(p => ({x: p[0], y: p[1]})); }
function spikePts(arr) {
  const out = [];
  arr.forEach(s => { out.push({x: s[0], y: s[1]}, {x: s[0], y: s[2]}, {x: s[0], y: null}); });
  return out;
}
function fmt(v) { return String(Math.round(v * 10) / 10); }

const decor = {
  id: 'decor',
  beforeDatasetsDraw(chart) {
    const o = chart.options.plugins.decor;
    const {ctx, chartArea: a, scales: {x, y}} = chart;
    ctx.save();
    ctx.strokeStyle = '#5a5a5a'; ctx.lineWidth = 1; ctx.setLineDash([1.5, 2.5]);
    o.yTicks.forEach(v => {
      const py = Math.round(y.getPixelForValue(v)) + 0.5;
      if (py <= a.top + 1 || py >= a.bottom - 1) return;
      ctx.beginPath(); ctx.moveTo(a.left, py); ctx.lineTo(a.right, py); ctx.stroke();
    });
    gridYears.forEach(v => {
      const px = Math.round(x.getPixelForValue(v)) + 0.5;
      ctx.beginPath(); ctx.moveTo(px, a.top); ctx.lineTo(px, a.bottom); ctx.stroke();
    });
    ctx.setLineDash([]);
    ctx.strokeStyle = '#9a9a9a'; ctx.lineWidth = 1.2;
    ctx.beginPath(); ctx.moveTo(a.left, a.top + 0.5); ctx.lineTo(a.right - 0.5, a.top + 0.5); ctx.lineTo(a.right - 0.5, a.bottom); ctx.stroke();
    ctx.restore();
  },
  afterDatasetsDraw(chart) {
    const {ctx, chartArea: a, scales: {x}} = chart;
    ctx.save();
    ctx.strokeStyle = '#111'; ctx.lineWidth = 1.3;
    eventYears.forEach(v => {
      const px = x.getPixelForValue(v);
      ctx.beginPath(); ctx.moveTo(px, a.top); ctx.lineTo(px, a.bottom); ctx.stroke();
    });
    ctx.restore();
  },
  afterDraw(chart) {
    const o = chart.options.plugins.decor;
    const {ctx, chartArea: a, scales: {x, y}} = chart;
    ctx.save();
    ctx.fillStyle = '#000';
    // left axis
    ctx.strokeStyle = '#555'; ctx.lineWidth = 1.2;
    ctx.beginPath(); ctx.moveTo(a.left + 0.5, a.top); ctx.lineTo(a.left + 0.5, a.bottom); ctx.stroke();
    // y ticks
    ctx.strokeStyle = '#000';
    const step = o.minor;
    for (let k = Math.ceil(o.yMin / step - 1e-6); k * step <= o.yMax + 1e-6; k++) {
      const v = k * step;
      const major = o.yTicks.some(t => Math.abs(t - v) < 1e-6);
      const py = y.getPixelForValue(v);
      ctx.lineWidth = major ? 1.5 : 2.2;
      ctx.beginPath(); ctx.moveTo(a.left, py); ctx.lineTo(a.left - (major ? 5 : 2.5), py); ctx.stroke();
    }
    // bottom axis
    ctx.lineWidth = 2.5;
    ctx.beginPath(); ctx.moveTo(a.left - 1, a.bottom + 0.5); ctx.lineTo(a.right, a.bottom + 0.5); ctx.stroke();
    ctx.lineWidth = 1.5;
    for (let yr = 1950; yr <= 1985; yr++) {
      const px = x.getPixelForValue(yr);
      const len = yr % 10 === 0 ? 8 : (yr % 5 === 0 ? 7 : 4);
      ctx.beginPath(); ctx.moveTo(px, a.bottom); ctx.lineTo(px, a.bottom + len); ctx.stroke();
    }
    // title
    ctx.font = '18.8px ' + TFONT;
    ctx.textBaseline = 'middle'; ctx.textAlign = 'left';
    ctx.fillText(o.title, a.left + 1, a.top - 16.5);
    ctx.restore();
  }
};

function makePanel(id, title, yMin, yMax, yTicks, minor, series, smooth) {
  const datasets = [];
  series.forEach(s => {
    datasets.push({data: pts(s.data), showLine: true, borderColor: s.light, borderWidth: s.band,
      pointRadius: 0, tension: 0, cubicInterpolationMode: smooth ? 'monotone' : 'default',
      borderJoinStyle: 'round', borderCapStyle: 'butt', clip: 0});
    if (s.spikes) datasets.push({data: spikePts(s.spikes), showLine: true, borderColor: s.light, borderWidth: 3,
      pointRadius: 0, tension: 0, borderCapStyle: 'butt', clip: 0});
  });
  series.forEach(s => {
    datasets.push({data: pts(s.data), showLine: true, borderColor: s.dark, borderWidth: s.lw || 2,
      pointRadius: 0, tension: 0, cubicInterpolationMode: smooth ? 'monotone' : 'default',
      borderJoinStyle: 'round', clip: 0});
  });
  // Chart.js paints the first dataset last (on top), so reverse to paint in list order
  datasets.reverse();
  const tickFont = {family: TFONT, size: 15.5, weight: 'bold'};
  new Chart(document.getElementById(id), {
    type: 'scatter',
    data: {datasets},
    options: {
      responsive: false, animation: false, events: [],
      layout: {padding: {top: 35, right: 9.5, left: 0, bottom: 0}},
      scales: {
        x: {type: 'linear', position: 'bottom', min: 1950, max: 1985,
          grid: {display: false, drawTicks: false}, border: {display: false},
          ticks: {font: tickFont, color: '#000', padding: 8, maxRotation: 0, autoSkip: false, callback: v => String(v)},
          afterBuildTicks: sc => { sc.ticks = xTickLabels.map(v => ({value: v})); },
          afterFit: sc => { sc.height = 30; }},
        y: {type: 'linear', position: 'left', min: yMin, max: yMax,
          grid: {display: false, drawTicks: false}, border: {display: false},
          ticks: {font: tickFont, color: '#000', padding: 7, autoSkip: false, callback: v => fmt(v)},
          afterBuildTicks: sc => { sc.ticks = yTicks.map(v => ({value: v})); },
          afterFit: sc => { sc.width = 46; }}
      },
      plugins: {legend: {display: false}, tooltip: {enabled: false}, title: {display: false},
        decor: {title, yTicks, minor, yMin, yMax}}
    },
    plugins: [decor]
  });
}

makePanel('pa', titles[0], 3.5, 5.0, aYTicks, 0.1, [
  {data: aGrey, spikes: aGreySpikes, dark: GREY, light: LGREY, band: 4},
  {data: aGold, spikes: aGoldSpikes, dark: GOLD, light: LGOLD, band: 4},
  {data: aBlue, spikes: aBlueSpikes, dark: NAVY, light: LBLUE, band: 4},
  {data: aRed, spikes: aRedSpikes, dark: RED, light: LRED, band: 4}], false);

makePanel('pb', titles[1], 1.5, 4.91, bYTicks, 0.1, [
  {data: bGold, spikes: bGoldSpikes, dark: GOLD, light: LGOLD, band: 13},
  {data: bGrey, spikes: bGreySpikes, dark: GREY, light: LGREY, band: 4},
  {data: bBlue, spikes: bBlueSpikes, dark: NAVY, light: LBLUE, band: 5},
  {data: bRed, spikes: bRedSpikes, dark: RED, light: LRED, band: 4}], false);

makePanel('pc', titles[2], 2.8, 4.9, cYTicks, 0.1, [
  {data: cGold, spikes: cGoldSpikes, dark: GOLD, light: LGOLD, band: 10},
  {data: cGrey, spikes: cGreySpikes, dark: GREY, light: LGREY, band: 5},
  {data: cRed, spikes: cRedSpikes, dark: RED, light: LRED, band: 6},
  {data: cBlue, spikes: cBlueSpikes, dark: NAVY, light: LBLUE, band: 7}], true);

makePanel('pd', titles[3], 3.7, 4.5, dYTicks, 0.1, [
  {data: dBlue, spikes: dBlueSpikes, dark: NAVY, light: LBLUE, band: 10},
  {data: dRed, spikes: dRedSpikes, dark: RED, light: LRED, band: 10}], true);

makePanel('pe', titles[4], 2.9, 3.8, eYTicks, 0.1, [
  {data: eGrey, spikes: eGreySpikes, dark: GREY, light: LGREY, band: 12},
  {data: eGold, spikes: eGoldSpikes, dark: GOLD, light: LGOLD, band: 14},
  {data: eBlue, spikes: eBlueSpikes, dark: NAVY, light: LBLUE, band: 14},
  {data: eRed, spikes: eRedSpikes, dark: RED, light: LRED, band: 12}], true);

makePanel('pf', titles[5], 3.0, 4.1, fYTicks, 0.1, [
  {data: fBlue, spikes: fBlueSpikes, dark: NAVY, light: LBLUE, band: 7, lw: 2.5},
  {data: fRed, spikes: fRedSpikes, dark: RED, light: LRED, band: 7, lw: 2.5}], true);

makePanel('pg', titles[6], 3.5, 6.1, gYTicks, 0.05, [
  {data: gBlue, spikes: gBlueSpikes, dark: NAVY, light: LBLUE, band: 7},
  {data: gRed, spikes: gRedSpikes, dark: RED, light: LRED, band: 9}], false);

makePanel('ph', titles[7], 2.0, 5.4, hYTicks, 0.05, [
  {data: hBlue, spikes: hBlueSpikes, dark: NAVY, light: LBLUE, band: 8},
  {data: hRed, spikes: hRedSpikes, dark: RED, light: LRED, band: 5}], false);
</script>
</body></html>
